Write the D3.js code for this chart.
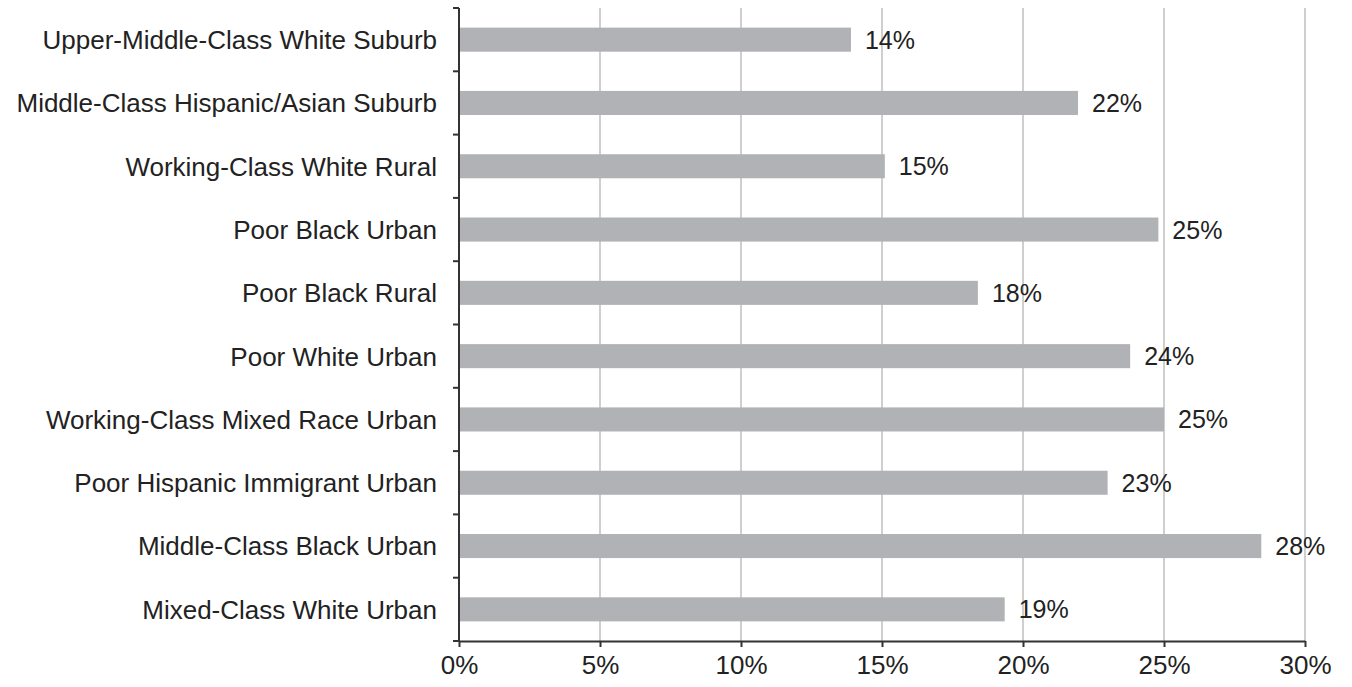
<!DOCTYPE html>
<html>
<head>
<meta charset="utf-8">
<script src="https://cdn.jsdelivr.net/npm/d3@7"></script>
<style>
  html, body { margin: 0; padding: 0; background: #fff; }
  svg { display: block; }
  text { font-family: "Liberation Sans", Arial, sans-serif; fill: #222; }
</style>
</head>
<body>
<svg id="chart" width="1352" height="687"></svg>
<script>
const categories = [
  "Upper-Middle-Class White Suburb",
  "Middle-Class Hispanic/Asian Suburb",
  "Working-Class White Rural",
  "Poor Black Urban",
  "Poor Black Rural",
  "Poor White Urban",
  "Working-Class Mixed Race Urban",
  "Poor Hispanic Immigrant Urban",
  "Middle-Class Black Urban",
  "Mixed-Class White Urban"
];
const values = [13.9, 21.95, 15.1, 24.8, 18.4, 23.8, 25.0, 23.0, 28.45, 19.35];
const valueLabels = ["14%", "22%", "15%", "25%", "18%", "24%", "25%", "23%", "28%", "19%"];
const xTicks = [0, 5, 10, 15, 20, 25, 30];

const svg = d3.select("#chart");
const margin = { left: 459, right: 47, top: 8, bottom: 46 };
const W = 1352, H = 687;

const x = d3.scaleLinear().domain([0, 30]).range([margin.left, W - margin.right]);
const y = d3.scaleBand().domain(categories).range([margin.top, H - margin.bottom]).paddingInner(0.62).paddingOuter(0.31);
const yBands = d3.scaleBand().domain(categories).range([margin.top, H - margin.bottom]);

// gridlines
svg.append("g")
  .selectAll("line")
  .data(xTicks.slice(1))
  .join("line")
  .attr("x1", d => x(d)).attr("x2", d => x(d))
  .attr("y1", margin.top).attr("y2", H - margin.bottom)
  .attr("stroke", "#cfcfcf").attr("stroke-width", 2);

// bars
svg.append("g")
  .selectAll("rect")
  .data(categories)
  .join("rect")
  .attr("x", x(0))
  .attr("y", d => y(d))
  .attr("width", (d, i) => x(values[i]) - x(0))
  .attr("height", y.bandwidth())
  .attr("fill", "#b1b2b5");

// value labels
svg.append("g")
  .selectAll("text")
  .data(categories)
  .join("text")
  .attr("x", (d, i) => x(values[i]) + 14)
  .attr("y", d => y(d) + y.bandwidth() / 2)
  .attr("dy", "0.36em")
  .attr("font-size", 25)
  .text((d, i) => valueLabels[i]);

// x axis
const xAxis = d3.axisBottom(x)
  .tickValues(xTicks)
  .tickFormat(d => d + "%")
  .tickSize(6)
  .tickSizeOuter(0)
  .tickPadding(9);
const gx = svg.append("g")
  .attr("transform", `translate(0,${H - margin.bottom})`)
  .call(xAxis);
gx.select(".domain").attr("stroke", "#333").attr("stroke-width", 2);
gx.selectAll(".tick line").attr("stroke", "#333").attr("stroke-width", 2);
gx.selectAll(".tick text").attr("font-size", 26).attr("font-family", "Liberation Sans, Arial, sans-serif").attr("fill", "#222");

// y axis: ticks at band boundaries
const boundaries = categories.map(c => yBands(c)).concat([H - margin.bottom]);
const gy = svg.append("g");
gy.append("line")
  .attr("x1", margin.left).attr("x2", margin.left)
  .attr("y1", margin.top).attr("y2", H - margin.bottom)
  .attr("stroke", "#333").attr("stroke-width", 2);
gy.selectAll("line.tk")
  .data(boundaries)
  .join("line")
  .attr("class", "tk")
  .attr("x1", margin.left - 6).attr("x2", margin.left)
  .attr("y1", d => d).attr("y2", d => d)
  .attr("stroke", "#333").attr("stroke-width", 2);

// category labels
svg.append("g")
  .selectAll("text")
  .data(categories)
  .join("text")
  .attr("x", margin.left - 22)
  .attr("y", d => yBands(d) + yBands.bandwidth() / 2)
  .attr("dy", "0.36em")
  .attr("text-anchor", "end")
  .attr("font-size", 26)
  .text(d => d);
</script>
</body>
</html>
